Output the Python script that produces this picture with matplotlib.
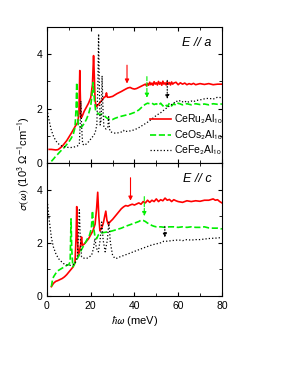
import matplotlib
matplotlib.use('Agg')
import matplotlib.pyplot as plt
from matplotlib.ticker import MultipleLocator

plt.rcParams['font.family'] = ['Liberation Sans', 'DejaVu Sans']
plt.rcParams['mathtext.fontset'] = 'stixsans'

# E // a
ru_a_x = [1, 2, 3, 4, 5, 6, 7, 8, 9, 10, 11, 12, 13, 14, 14.6, 15.0, 15.2, 15.5, 16, 17, 18, 19, 20,
          20.8, 21.3, 21.6, 22.0, 22.5, 23, 24, 25, 26, 26.8, 27.2, 27.6, 28.5, 30, 32, 34, 36, 37, 38,
          39, 40, 41, 42, 43, 44, 45, 45.5, 46, 46.5, 47, 47.5, 48, 48.5, 49, 49.5, 50, 50.5, 51, 51.5,
          52, 52.5, 53, 53.5, 54, 54.5, 55, 55.5, 56, 56.5, 57, 57.5, 58, 59, 60, 61, 62, 63, 64, 65,
          66, 67, 68, 70, 72, 74, 76, 78, 80]
ru_a_y = [0.50, 0.50, 0.49, 0.48, 0.49, 0.55, 0.62, 0.72, 0.82, 0.95, 1.08, 1.22, 1.36, 1.48, 1.8,
          3.4, 2.6, 1.65, 1.7, 1.9, 2.05, 2.2, 2.4, 2.9, 3.95, 3.3, 2.3, 2.08, 2.1, 2.2, 2.3, 2.4,
          2.45, 2.58, 2.42, 2.42, 2.45, 2.55, 2.63, 2.72, 2.76, 2.78, 2.74, 2.72, 2.74, 2.78, 2.82,
          2.86, 2.9, 2.84, 2.92, 2.86, 2.97, 2.88, 2.94, 2.86, 2.99, 2.9, 2.95, 2.87, 3.0, 2.9, 2.96,
          2.86, 3.01, 2.9, 2.95, 2.87, 2.99, 2.9, 2.96, 2.87, 2.98, 2.9, 2.94, 2.97, 2.88, 2.95, 2.9,
          2.94, 2.88, 2.92, 2.89, 2.93, 2.88, 2.92, 2.89, 2.92, 2.88, 2.9, 2.9]

os_a_x = [2, 3, 4, 5, 6, 7, 8, 9, 10, 11, 12, 12.8, 13.3, 13.6, 13.9, 14.3, 15, 16, 17, 18, 19, 20,
          20.6, 21.1, 21.6, 22.2, 23, 24, 25, 26, 27, 28, 29, 30, 31, 32, 34, 36, 38, 40, 42, 44, 45,
          46, 47, 48, 49, 50, 51, 52, 53, 54, 55, 56, 57, 58, 59, 60, 62, 64, 66, 68, 70, 72, 74, 76,
          78, 80]
os_a_y = [0.06, 0.15, 0.25, 0.33, 0.42, 0.5, 0.58, 0.68, 0.78, 0.9, 1.05, 1.3, 2.0, 2.96, 2.0, 1.35,
          1.3, 1.34, 1.45, 1.6, 1.8, 2.1, 2.5, 2.96, 2.4, 1.95, 1.85, 1.78, 1.8, 1.75, 1.68, 1.62,
          1.6, 1.6, 1.64, 1.67, 1.72, 1.76, 1.8, 1.86, 1.95, 2.1, 2.16, 2.2, 2.18, 2.2, 2.15, 2.18,
          2.12, 2.2, 2.1, 2.16, 2.08, 2.2, 2.1, 2.18, 2.12, 2.2, 2.14, 2.18, 2.14, 2.18, 2.15, 2.17,
          2.14, 2.18, 2.16, 2.17]

fe_a_x = [0.3, 1, 2, 3, 4, 5, 6, 7, 8, 9, 10, 11, 12, 13, 14, 14.8, 15.2, 15.5, 15.8, 16.3, 17, 18,
          19, 20, 21, 22, 22.8, 23.3, 23.6, 23.9, 24.3, 24.8, 25.2, 25.6, 26.0, 26.5, 27, 27.8, 28.2,
          28.6, 29, 30, 31, 32, 33, 34, 35, 35.5, 36, 38, 40, 42, 44, 46, 48, 50, 52, 54, 56, 58, 59,
          60, 61, 62, 63, 64, 65, 66, 67, 68, 70, 72, 74, 76, 78, 80]
fe_a_y = [1.85, 1.55, 1.2, 0.98, 0.82, 0.72, 0.66, 0.62, 0.6, 0.58, 0.57, 0.57, 0.58, 0.6, 0.63,
          0.7, 1.5, 2.28, 1.4, 0.7, 0.65, 0.7, 0.78, 0.88, 0.98, 1.1, 1.4, 3.0, 4.75, 3.0, 1.4, 1.6,
          3.21, 2.0, 1.35, 1.28, 1.25, 1.3, 1.7, 1.25, 1.15, 1.12, 1.1, 1.1, 1.12, 1.14, 1.2, 1.15,
          1.16, 1.18, 1.22, 1.3, 1.4, 1.5, 1.62, 1.75, 1.85, 1.98, 2.1, 2.2, 2.28, 2.25, 2.3, 2.25,
          2.28, 2.22, 2.26, 2.28, 2.25, 2.3, 2.32, 2.36, 2.38, 2.35, 2.42, 2.4]

# E // c
ru_c_x = [2, 3, 4, 5, 6, 7, 8, 9, 10, 11, 12, 12.8, 13.3, 13.6, 13.9, 14.3, 15.0, 15.5, 15.8, 16.2,
          17, 18, 19, 20, 21, 22, 22.7, 23.2, 23.7, 24.2, 25, 25.8, 26.4, 26.9, 27.4, 28, 29, 30, 31,
          32, 33, 34, 35, 36, 37, 38, 39, 40, 41, 42, 43, 44, 45, 46, 47, 48, 49, 50, 51, 52, 53, 54,
          55, 56, 57, 58, 59, 60, 62, 64, 66, 68, 70, 72, 74, 76, 77, 78, 79, 80]
ru_c_y = [0.35, 0.48, 0.55, 0.58, 0.62, 0.66, 0.72, 0.8, 0.9, 1.0, 1.1, 1.25, 2.2, 3.36, 2.3, 1.5,
          1.75, 2.0, 2.22, 1.9, 1.95, 2.05, 2.15, 2.3, 2.45, 2.7, 3.3, 3.9, 3.0, 2.45, 2.55, 2.75,
          3.0, 3.19, 2.85, 2.7, 2.8, 2.88, 2.98, 3.08, 3.18, 3.28, 3.35, 3.4, 3.38, 3.42, 3.45, 3.42,
          3.46, 3.5, 3.45, 3.55, 3.5, 3.6, 3.52, 3.6, 3.55, 3.65, 3.55, 3.62, 3.58, 3.68, 3.6, 3.63,
          3.55, 3.62, 3.58, 3.55, 3.52, 3.58, 3.55, 3.58, 3.56, 3.6, 3.6, 3.65, 3.6, 3.62, 3.55, 3.5]

os_c_x = [2, 2.5, 3, 4, 5, 6, 7, 8, 9, 10, 10.6, 11.0, 11.3, 11.8, 12.5, 13.5, 14.5, 15.5, 16.5,
          17.5, 18.5, 19.5, 20.3, 20.8, 21.3, 22, 22.7, 23.5, 24.5, 25.5, 27, 28.5, 30, 32, 34, 36,
          38, 40, 42, 43, 44, 45, 46, 47, 48, 49, 50, 52, 54, 56, 58, 60, 62, 64, 66, 68, 70, 72, 74,
          76, 78, 80]
os_c_y = [0.35, 0.6, 0.72, 0.85, 0.95, 1.0, 1.05, 1.1, 1.15, 1.18, 1.3, 2.9, 1.8, 1.1, 1.2, 1.35,
          1.5, 1.7, 1.85, 2.0, 2.15, 2.3, 2.55, 3.2, 2.6, 2.2, 2.15, 2.3, 2.35, 2.38, 2.4, 2.42, 2.45,
          2.5, 2.55, 2.62, 2.68, 2.74, 2.8, 2.85, 2.84, 2.8, 2.74, 2.7, 2.65, 2.62, 2.6, 2.6, 2.58,
          2.6, 2.6, 2.58, 2.6, 2.58, 2.6, 2.58, 2.58, 2.6, 2.56, 2.55, 2.55, 2.52]

fe_c_x = [0.3, 0.8, 1.4, 2, 2.9, 4, 5.2, 6.5, 7.5, 9, 10.5, 12, 12.8, 13.9, 14.4, 14.8, 15.2, 15.8,
          17, 18.1, 19.2, 20.4, 21.3, 21.9, 22.6, 23.5, 24.3, 25.0, 25.7, 26.6, 27.6, 28.3, 29.0, 30,
          31.1, 32, 33.3, 35, 37, 39.5, 42, 44, 45.6, 48, 50, 52, 53.5, 55, 57, 59, 60.8, 62, 64, 66,
          68, 70, 72, 74, 76, 78, 80]
fe_c_y = [3.46, 3.0, 2.6, 2.2, 1.85, 1.6, 1.41, 1.3, 1.22, 1.17, 1.15, 1.18, 1.22, 1.47, 2.4, 3.24,
          2.2, 1.47, 1.42, 1.41, 1.46, 1.53, 1.8, 2.16, 1.8, 1.66, 2.1, 2.78, 2.1, 1.66, 2.1, 2.78,
          2.0, 1.53, 1.41, 1.42, 1.47, 1.52, 1.58, 1.66, 1.74, 1.8, 1.85, 1.92, 1.96, 2.0, 2.06, 2.06,
          2.08, 2.1, 2.1, 2.08, 2.12, 2.1, 2.12, 2.12, 2.14, 2.16, 2.17, 2.18, 2.2]

# arrows: (energy, start, end)
arrows_a = [(36.6, 3.7, 2.82), (45.7, 3.28, 2.3), (55.0, 3.14, 2.25)]
arrows_c = [(38.2, 4.55, 3.48), (44.5, 3.84, 2.9), (53.9, 2.72, 2.1)]

labels = ['CeRu$_2$Al$_{10}$', 'CeOs$_2$Al$_{10}$', 'CeFe$_2$Al$_{10}$']
colors = ['#ff0000', '#00ee00', 'black']
styles = ['-', '--', ':']
widths = [1.2, 1.2, 0.9]

fig = plt.figure(figsize=(2.91, 3.76), dpi=100)
ax1 = fig.add_axes([0.1615, 0.5665, 0.601, 0.3615])
ax2 = fig.add_axes([0.1615, 0.2128, 0.601, 0.3537])

panels = [(ax1, [(ru_a_x, ru_a_y), (os_a_x, os_a_y), (fe_a_x, fe_a_y)], arrows_a, 'E // a'),
          (ax2, [(ru_c_x, ru_c_y), (os_c_x, os_c_y), (fe_c_x, fe_c_y)], arrows_c, 'E // c')]

for ax, series, arrows, title in panels:
    for i in range(3):
        ax.plot(series[i][0], series[i][1], color=colors[i], ls=styles[i], lw=widths[i],
                label=labels[i])
        xa, y0, y1 = arrows[i]
        ax.annotate('', xy=(xa, y1), xytext=(xa, y0),
                    arrowprops=dict(arrowstyle='-|>', color=colors[i], lw=0.8,
                                    ls=styles[i], mutation_scale=6))
    ax.set_xlim(0, 80)
    ax.set_ylim(0, 5)
    ax.xaxis.set_major_locator(MultipleLocator(20))
    ax.xaxis.set_minor_locator(MultipleLocator(10))
    ax.yaxis.set_major_locator(MultipleLocator(2))
    ax.yaxis.set_minor_locator(MultipleLocator(1))
    ax.tick_params(which='both', direction='in', top=True, right=True, labelsize=7.5)
    ax.tick_params(which='major', length=3)
    ax.tick_params(which='minor', length=2)
    ax.text(0.94, 0.88, title, transform=ax.transAxes, ha='right', va='center',
            fontsize=9, style='italic')

ax1.tick_params(labelbottom=False)
ax1.legend(loc='lower right', frameon=False, fontsize=7.5, handlelength=2.0,
           handletextpad=0.3, borderaxespad=0.0, labelspacing=0.2,
           bbox_to_anchor=(1.03, 0.01))
ax2.set_xlabel(r'$\hbar\omega$ (meV)', fontsize=8, labelpad=2)
fig.text(0.082, 0.566, r'$\sigma(\omega)$ (10$^3$ $\Omega^{-1}$cm$^{-1}$)', rotation=90,
         ha='center', va='center', fontsize=8)

fig.savefig('out.png', dpi=100)
